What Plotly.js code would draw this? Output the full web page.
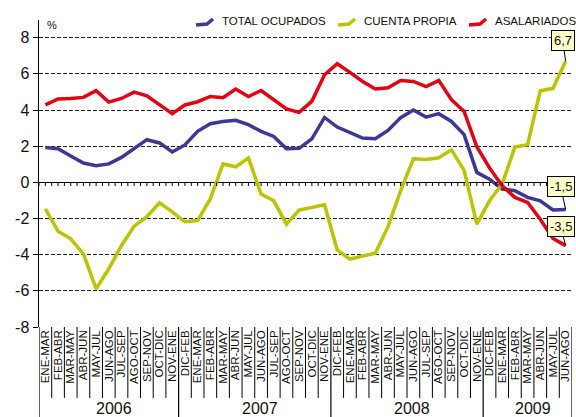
<!DOCTYPE html>
<html>
<head>
<meta charset="utf-8">
<script src="https://cdn.plot.ly/plotly-3.0.1.min.js"></script>
<style>html,body{margin:0;padding:0;background:#fff;}#chart{width:576px;height:417px;}</style>
</head>
<body>
<div id="chart"></div>
<script>
var categories = [
  'ENE-MAR','FEB-ABR','MAR-MAY','ABR-JUN','MAY-JUL','JUN-AGO','JUL-SEP','AGO-OCT','SEP-NOV','OCT-DIC','NOV-ENE',
  'DIC-FEB','ENE-MAR','FEB-ABR','MAR-MAY','ABR-JUN','MAY-JUL','JUN-AGO','JUL-SEP','AGO-OCT','SEP-NOV','OCT-DIC','NOV-ENE',
  'DIC-FEB','ENE-MAR','FEB-ABR','MAR-MAY','ABR-JUN','MAY-JUL','JUN-AGO','JUL-SEP','AGO-OCT','SEP-NOV','OCT-DIC','NOV-ENE',
  'DIC-FEB','ENE-MAR','FEB-ABR','MAR-MAY','ABR-JUN','MAY-JUL','JUN-AGO'
];
var years = ['2006','2007','2008','2009'];
var yearCounts = [11, 12, 12, 7];

var seriesNames = ['TOTAL OCUPADOS', 'CUENTA PROPIA', 'ASALARIADOS'];
var totalOcupados = [1.93,1.86,1.46,1.07,0.92,1.02,1.38,1.90,2.36,2.18,1.68,2.07,2.82,3.24,3.36,3.43,3.19,2.82,2.54,1.86,1.88,2.41,3.59,3.06,2.73,2.45,2.41,2.87,3.58,4.00,3.61,3.80,3.37,2.64,0.55,0.18,-0.37,-0.46,-0.83,-1.02,-1.53,-1.5];
var cuentaPropia = [-1.46,-2.70,-3.12,-3.95,-5.89,-4.78,-3.49,-2.42,-1.90,-1.13,-1.63,-2.18,-2.11,-0.91,1.02,0.86,1.35,-0.65,-1.02,-2.31,-1.53,-1.38,-1.24,-3.74,-4.25,-4.07,-3.92,-2.45,-0.46,1.30,1.27,1.36,1.80,0.66,-2.31,-1.02,-0.09,1.95,2.08,5.07,5.20,6.7];
var asalariados = [4.29,4.61,4.64,4.70,5.07,4.44,4.64,4.99,4.79,4.28,3.80,4.28,4.46,4.75,4.68,5.16,4.75,5.08,4.57,4.06,3.87,4.48,5.95,6.56,6.08,5.58,5.16,5.23,5.63,5.58,5.30,5.64,4.57,3.92,1.97,0.80,-0.19,-0.83,-1.11,-2.04,-3.10,-3.5];

var yTickVals = [-8,-6,-4,-2,0,2,4,6,8];
var yTickText = ['-8','-6','-4','-2','0','2','4','6','8'];
var callouts = [
  {series: 1, text: '6,7', ax: -3, ay: -21},
  {series: 0, text: '-1,5', ax: -5, ay: -23},
  {series: 2, text: '-3,5', ax: -5, ay: -19}
];

var seriesData = [totalOcupados, cuentaPropia, asalariados];
var colors = ['#3b3898', '#bcc300', '#e60012'];
var idx = categories.map(function(c, i){ return i; });
var font = 'Liberation Sans, Arial, sans-serif';

// plot area geometry (pixels) for paper-coordinate decorations
var L = 39, R = 4, T = 20, B = 90, W = 576, H = 417;
function px(x){ return (x - L) / (W - L - R); }
function py(y){ return (H - B - y) / (H - T - B); }

var traces = seriesData.map(function(d, i){
  return {x: idx, y: d, name: seriesNames[i], mode: 'lines', line: {color: colors[i], width: 3.5}, showlegend: false};
});

var shapes = [];
var n = categories.length;
for (var k = 0; k <= 2 * n; k++) {
  shapes.push({type: 'line', xref: 'x', yref: 'y', x0: -0.5 + k * 0.5, x1: -0.5 + k * 0.5, y0: 0, y1: -0.2,
    line: {color: '#000', width: 1}});
}
var yearBounds = [-0.5];
var acc = -0.5;
yearCounts.forEach(function(c){ acc += c; yearBounds.push(acc); });
for (var b = 0; b <= n; b++) {
  var xb = b - 0.5;
  var isYear = yearBounds.indexOf(xb) >= 0;
  shapes.push({type: 'line', xref: 'x', yref: 'paper', x0: xb, x1: xb, y0: 0, y1: isYear ? -0.3 : -0.231,
    line: {color: '#000', width: isYear ? 1.2 : 1}});
}

var annotations = [];
// custom legend
var legendX = [196, 338, 469];
seriesNames.forEach(function(nm, i){
  var x0 = legendX[i];
  shapes.push({type: 'path', xref: 'paper', yref: 'paper',
    path: 'M' + px(x0) + ',' + py(25) + ' L' + px(x0 + 11) + ',' + py(24) + ' L' + px(x0 + 17) + ',' + py(19),
    line: {color: colors[i], width: 3.5}});
  annotations.push({xref: 'paper', yref: 'paper', x: px(x0 + 24), y: py(21), text: nm, showarrow: false,
    xanchor: 'left', yanchor: 'middle', font: {family: font, size: 11.5, color: '#111'}});
});

var start = -0.5;
years.forEach(function(yv, i){
  var center = start + yearCounts[i] / 2 + 0.4;
  annotations.push({xref: 'x', yref: 'paper', x: center, y: -0.264, text: yv, showarrow: false,
    yanchor: 'middle', font: {family: font, size: 16, color: '#111'}});
  start += yearCounts[i];
});
annotations.push({xref: 'paper', yref: 'paper', x: 0.012, y: 0.985, text: '%', showarrow: false,
  xanchor: 'left', yanchor: 'middle', font: {family: font, size: 11, color: '#111'}});
callouts.forEach(function(c){
  var arr = seriesData[c.series];
  annotations.push({x: n - 1, y: arr[arr.length - 1], xref: 'x', yref: 'y', text: c.text,
    showarrow: true, arrowhead: 0, arrowwidth: 1, arrowcolor: '#000', ax: c.ax, ay: c.ay, standoff: 0,
    bgcolor: '#ffffc8', bordercolor: '#000', borderwidth: 1, borderpad: 2,
    font: {family: font, size: 13, color: '#111'}});
});

var layout = {
  width: W, height: H,
  margin: {l: L, r: R, t: T, b: B},
  paper_bgcolor: '#fff', plot_bgcolor: '#fff',
  showlegend: false,
  xaxis: {range: [-0.5, n - 0.5], tickmode: 'array', tickvals: idx, ticktext: categories, tickangle: -90,
    showgrid: false, zeroline: false, showline: false, ticks: '',
    tickfont: {family: font, size: 11.5, color: '#111'}, fixedrange: true},
  yaxis: {range: [-8, 8.98], tickmode: 'array', tickvals: yTickVals, ticktext: yTickText,
    showgrid: true, gridcolor: '#222', gridwidth: 1, griddash: '4px,2px',
    zeroline: true, zerolinecolor: '#000', zerolinewidth: 1.5,
    showline: true, linecolor: '#000', linewidth: 1.5, ticks: 'outside', ticklen: 5, tickcolor: '#000',
    tickfont: {family: font, size: 16, color: '#111'}, fixedrange: true},
  shapes: shapes,
  annotations: annotations
};

Plotly.newPlot('chart', traces, layout, {displayModeBar: false, staticPlot: true});
</script>
</body>
</html>
